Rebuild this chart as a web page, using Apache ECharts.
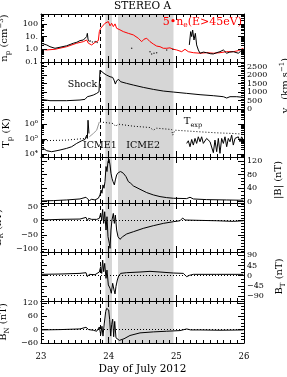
<!DOCTYPE html>
<html><head><meta charset="utf-8">
<script src="https://cdn.jsdelivr.net/npm/echarts@6/dist/echarts.min.js"></script>
<style>html,body{margin:0;padding:0;background:#fff}#c{width:287px;height:377px}</style>
</head><body><div id="c"></div>
<script>
// ---------------- DATA ----------------
const dayTicks = [23, 24, 25, 26];
const shockDay = 23.872;
const icme1Days = [23.951, 24.049];
const icme2Days = [24.138, 24.958];

// proton density (black) and 5*ne (red), cm^-3
const npBlackPre = [[23.0,3.0],[23.01,4.0],[23.04,2.6],[23.06,3.3],[23.084,2.2],[23.133,1.6],[23.207,1.2],[23.281,1.45],[23.379,1.9],[23.43,2.4],[23.478,3.0],[23.53,3.6],[23.576,4.8],[23.626,5.4],[23.65,4.8],[23.675,10],[23.685,18],[23.695,6.2],[23.714,4.0]];
const npBlackPost = [[25.192,2.2],[25.212,24.6],[25.227,10],[25.241,33],[25.261,5.4],[25.281,18],[25.3,2.2],[25.325,0.89],[25.35,0.49],[25.4,0.6],[25.448,0.54],[25.5,0.45],[25.547,0.43],[25.6,0.55],[25.645,0.65],[25.695,0.89],[25.744,0.49],[25.79,0.6],[25.842,0.65],[25.916,0.49],[25.95,0.7],[25.99,1.0]];
const npDots = [[23.73,4.5],[23.76,3.8],[23.8,4.2],[23.83,3.5],[24.34,1.2],[24.611,0.65],[24.635,0.43],[24.67,0.49],[24.709,0.54],[24.857,0.89],[24.95,1.0]];
const neRed = [[23.0,1.0],[23.084,0.89],[23.207,1.0],[23.379,1.6],[23.527,3.0],[23.626,4.0],[23.675,5.4],[23.7,3.0],[23.749,2.2],[23.798,3.5],[23.847,4.8],[23.862,24.6],[23.882,45],[23.911,61],[23.946,112],[23.97,83],[23.995,152],[24.02,70],[24.044,112],[24.069,61],[24.094,100],[24.118,45],[24.143,61],[24.167,34],[24.217,24.6],[24.291,18],[24.365,13.5],[24.438,7.4],[24.488,4.0],[24.522,6.2],[24.562,7.4],[24.611,4.0],[24.66,2.6],[24.709,1.8],[24.759,1.6],[24.808,1.2],[24.857,1.2],[24.906,1.3],[24.956,1.0],[25.005,0.89],[25.079,0.65],[25.128,1.0],[25.177,0.65],[25.251,0.54],[25.35,0.49],[25.448,0.54],[25.547,0.49],[25.645,0.54],[25.744,0.65],[25.842,0.65],[25.916,0.78],[25.99,1.2]];

// proton speed, km/s
const vpData = [[23.0,569],[23.133,490],[23.379,490],[23.576,529],[23.65,569],[23.685,725],[23.724,764],[23.773,823],[23.823,921],[23.857,1019],[23.872,2293],[23.882,2391],[23.901,2254],[23.931,2097],[23.97,1999],[24.02,1901],[24.059,1862],[24.079,1705],[24.099,1470],[24.118,1666],[24.148,1744],[24.177,1607],[24.266,1509],[24.365,1411],[24.512,1274],[24.66,1156],[24.808,1058],[24.956,999],[25.153,921],[25.35,843],[25.547,784],[25.695,725],[25.744,647],[25.793,725],[25.892,725],[25.99,686]];

// proton temperature, K
const tpBlackPre = [[23.0,30800],[23.034,23900],[23.084,16700],[23.158,14300],[23.207,15800],[23.281,18500],[23.379,23900],[23.453,30800],[23.527,51400],[23.601,77400],[23.65,95000],[23.675,185000],[23.685,111000],[23.695,1850000],[23.709,239000]];
const tpGray = [[23.714,143000],[23.773,239000],[23.823,398000],[23.862,1430000]];
const tpBlackPost = [[25.153,51400],[25.177,77400],[25.202,30800],[25.227,95000],[25.251,39800],[25.276,111000],[25.3,51400],[25.325,143000],[25.35,66400],[25.374,143000],[25.399,51400],[25.448,111000],[25.498,66400],[25.547,12300],[25.571,85800],[25.596,14300],[25.621,111000],[25.645,11100],[25.67,111000],[25.695,51400],[25.719,143000],[25.744,30800],[25.768,111000],[25.793,66400],[25.818,185000],[25.842,39800],[25.867,111000],[25.892,85800],[25.916,143000],[25.941,66400],[25.966,143000],[25.99,85800]];
const texpPre = [[23.0,77400],[23.379,85800],[23.65,111000],[23.685,143000]];
const texpPost = [[23.872,1430000],[24.069,1110000],[24.099,736000],[24.148,1000000],[24.365,736000],[24.611,600000],[24.66,398000],[24.709,541000],[24.931,441000],[24.946,185000],[24.98,398000],[25.35,308000],[25.596,264000],[25.842,239000],[25.99,215000]];

// magnetic field, nT
const bMag = [[23.0,2.1],[23.182,3.1],[23.379,5.0],[23.576,8.0],[23.665,13],[23.685,10],[23.714,3.1],[23.749,7.0],[23.798,5.0],[23.847,10],[23.872,19.9],[23.887,34.7],[23.901,24.8],[23.916,49.5],[23.931,39.6],[23.946,59.3],[23.961,103.8],[23.975,89],[23.99,118.6],[24.005,125.5],[24.02,108.7],[24.034,84],[24.049,69],[24.064,59.3],[24.084,49.5],[24.099,64.3],[24.118,79],[24.143,86],[24.177,89],[24.217,84],[24.256,74],[24.291,59.3],[24.325,54.4],[24.365,46.5],[24.463,36.6],[24.562,26.8],[24.66,19.9],[24.759,14.9],[24.857,11.9],[24.956,10],[25.153,9],[25.202,13],[25.251,8],[25.448,6],[25.744,5],[25.99,4]];
const bR = [[23.0,2.5],[23.281,4.9],[23.576,6.0],[23.665,11.9],[23.685,0.1],[23.704,8.4],[23.749,4.9],[23.823,4.9],[23.862,8.4],[23.882,26],[23.897,2.5],[23.911,40],[23.926,-9.4],[23.941,32],[23.961,-33],[23.975,14.3],[23.99,-56.6],[24.01,-80],[24.02,-98],[24.034,-33],[24.049,2.5],[24.069,26],[24.084,-9.4],[24.099,20],[24.118,-33],[24.138,-56.6],[24.167,-66],[24.207,-56.6],[24.266,-47],[24.365,-39],[24.512,-27],[24.66,-17.6],[24.808,-9.4],[24.956,-3.4],[25.054,0],[25.094,9.6],[25.128,2.5],[25.35,1.3],[25.596,0],[25.842,-2.2],[25.99,0]];
const bT = [[23.0,6],[23.281,7.5],[23.576,10.4],[23.665,13.4],[23.685,-4.3],[23.714,6],[23.798,4.5],[23.862,16.3],[23.882,40],[23.897,10.4],[23.911,69],[23.926,17.8],[23.941,54.5],[23.961,-11.6],[23.975,25],[23.995,-41],[24.02,-55.7],[24.039,-77.7],[24.059,-33.6],[24.079,-63],[24.094,-80.7],[24.108,-48],[24.128,-19],[24.148,-1.3],[24.177,10.4],[24.266,13.4],[24.463,16.3],[24.611,19.3],[24.759,16.3],[24.956,11.9],[25.103,10.4],[25.153,-4.3],[25.192,1.6],[25.251,6],[25.596,6],[25.99,6]];
const bN = [[23.0,-1.5],[23.281,0],[23.576,2.9],[23.665,10.3],[23.685,14.7],[23.704,0],[23.773,-2.9],[23.823,-7.3],[23.862,11.7],[23.882,-22],[23.901,14.7],[23.916,-29],[23.936,29.3],[23.956,80.7],[23.97,95],[23.985,99.7],[24.0,88],[24.015,44],[24.03,-29],[24.044,22],[24.059,47],[24.074,-32],[24.089,36.7],[24.108,-36.7],[24.128,-41],[24.158,-48.4],[24.187,-51.3],[24.227,-41],[24.315,-26.4],[24.463,-14.7],[24.66,-10.3],[24.857,-7.3],[25.054,-4.4],[25.153,2.9],[25.182,8.8],[25.212,-1.5],[25.35,-1.5],[25.645,-2.9],[25.99,-1.5]];

// tick values and labels
const npTicks = [0.1, 1, 10, 100], npTickLabels = ['0.1', '1.0', '10.', '100'];
const vpTicks = [0, 500, 1000, 1500, 2000, 2500], vpTickLabels = ['0', '500', '1000', '1500', '2000', '2500'];
const tpTicks = [1e4, 1e5, 1e6], tpTickLabels = ['10⁴', '10⁵', '10⁶'];
const bTicks = [0, 40, 80, 120], bTickLabels = ['0', '40', '80', '120'];
const brTicks = [-100, -50, 0, 50], brTickLabels = ['−100', '−50', '0', '50'];
const btTicks = [-90, -45, 0, 45, 90], btTickLabels = ['−90', '−45', '0', '45', '90'];
const bnTicks = [-60, 0, 60, 120], bnTickLabels = ['−60', '0', '60', '120'];

// ---------------- LAYOUT / STYLE ----------------
const SERIF = 'DejaVu Serif';
function range(a, b, s) { const r = []; for (let v = a; v <= b + 1e-9; v += s) r.push(+v.toFixed(6)); return r; }
function logMinor(lo, hi) { const r = []; for (let d = Math.floor(Math.log10(lo)); d <= Math.ceil(Math.log10(hi)); d++) { for (let k = 2; k <= 9; k++) { const v = k * Math.pow(10, d); if (v >= lo && v <= hi) r.push(v); } } return r; }

const panels = [
  { top: 14, h: 48, type: 'log', min: 0.1, max: 600, ticks: npTicks, labels: npTickLabels, minor: logMinor(0.1, 600), side: 'left', name: '{m|n}{sb|p}{m| (cm}{sp|−3}{m|)}' },
  { top: 62, h: 47, type: 'value', min: 0, max: 2770, ticks: vpTicks, labels: vpTickLabels, minor: range(0, 2700, 100), side: 'right', name: '{m|v}{sb|p}{m| (km s}{sp|−1}{m|)}' },
  { top: 109, h: 48, type: 'log', min: 6300, max: 1.05e7, ticks: tpTicks, labels: tpTickLabels, minor: logMinor(6300, 1.05e7), side: 'left', name: '{m|T}{sb|p}{m| (K)}' },
  { top: 157, h: 46, type: 'value', min: -4, max: 132, ticks: bTicks, labels: bTickLabels, minor: range(0, 130, 10), side: 'right', name: '{m||B| (nT)}' },
  { top: 203, h: 49, type: 'value', min: -111, max: 63, ticks: brTicks, labels: brTickLabels, minor: range(-110, 60, 10), side: 'left', name: '{m|B}{sb|R}{m| (nT)}', zero: true },
  { top: 252, h: 49, type: 'value', min: -112, max: 105, ticks: btTicks, labels: btTickLabels, minor: range(-105, 105, 15), side: 'right', name: '{m|B}{sb|T}{m| (nT)}', zero: true },
  { top: 301, h: 42, type: 'value', min: -60, max: 128, ticks: bnTicks, labels: bnTickLabels, minor: range(-60, 120, 15), side: 'left', name: '{m|B}{sb|N}{m| (nT)}', zero: true }
];

const nameRich = {
  m: { fontFamily: SERIF, fontSize: 10, lineHeight: 14, color: '#000' },
  sb: { fontFamily: SERIF, fontSize: 7, lineHeight: 8, verticalAlign: 'bottom', color: '#000' },
  sp: { fontFamily: SERIF, fontSize: 7, lineHeight: 8, verticalAlign: 'top', color: '#000' }
};
const black = { color: '#000', width: 1 };

const grids = [], xAxes = [], yAxes = [], series = [];
panels.forEach((p, i) => {
  const last = i === panels.length - 1;
  grids.push({ left: 41, right: 43, top: p.top, height: p.h, containLabel: false, outerBoundsMode: 'none' });
  const xBase = {
    gridIndex: i, type: 'value', min: 23, max: 26, interval: 1, z: 5,
    axisLine: { show: true, onZero: false, lineStyle: black },
    axisTick: { show: true, inside: true, length: 6, lineStyle: black },
    minorTick: { show: true, splitNumber: 10, length: 3, lineStyle: black },
    splitLine: { show: false }, minorSplitLine: { show: false }
  };
  xAxes.push(Object.assign({}, xBase, {
    position: 'bottom',
    axisLabel: { show: last, customValues: dayTicks, margin: 9, fontFamily: SERIF, fontSize: 8.5, color: '#000' },
    name: last ? 'Day of July 2012' : '', nameLocation: 'middle', nameGap: 21,
    nameTextStyle: { fontFamily: SERIF, fontSize: 10.5, color: '#000' }
  }));
  xAxes.push(Object.assign({}, xBase, { position: 'top', axisLabel: { show: false } }));

  const fmt = v => {
    let best = 0, bd = Infinity;
    p.ticks.forEach((t, k) => { const d = p.type === 'log' ? Math.abs(Math.log10(v) - Math.log10(t)) : Math.abs(v - t); if (d < bd) { bd = d; best = k; } });
    return p.labels[best];
  };
  const yBase = { gridIndex: i, type: p.type, min: p.min, max: p.max, z: 5, splitLine: { show: false }, minorSplitLine: { show: false } };
  ['left', 'right'].forEach(pos => {
    const lab = p.side === pos;
    yAxes.push(Object.assign({}, yBase, {
      position: pos,
      axisLine: { show: true, onZero: false, lineStyle: black },
      axisTick: { show: true, inside: true, length: 6, customValues: p.ticks, lineStyle: black },
      axisLabel: { show: lab, customValues: p.ticks, formatter: fmt, margin: 3, fontFamily: SERIF, fontSize: 8, color: '#000' },
      name: lab ? p.name : '', nameLocation: 'middle', nameRotate: 90, nameGap: pos === 'left' ? 22 : 26,
      nameTextStyle: { rich: nameRich }
    }));
  });
  ['left', 'right'].forEach(pos => {
    yAxes.push(Object.assign({}, yBase, {
      position: pos,
      axisLine: { show: false, onZero: false },
      axisTick: { show: true, inside: true, length: 3, customValues: p.minor, lineStyle: black },
      axisLabel: { show: false }
    }));
  });

  const ml = [{ xAxis: shockDay }];
  if (p.zero) ml.push({ yAxis: 0, lineStyle: { type: [1, 2], color: '#000', width: 1 } });
  series.push({
    type: 'line', xAxisIndex: 2 * i, yAxisIndex: 4 * i, data: [[23, p.min]], symbol: 'none', silent: true,
    lineStyle: { opacity: 0 }, z: 2,
    markLine: { silent: true, symbol: 'none', label: { show: false }, lineStyle: { type: [4, 3], color: '#000', width: 1 }, data: ml }
  });
});

function line(panel, data, opts) {
  series.push(Object.assign({
    type: 'line', xAxisIndex: 2 * panel, yAxisIndex: 4 * panel, data: data, symbol: 'none', silent: true,
    lineStyle: { color: '#000', width: 1 }, z: 3, animation: false
  }, opts || {}));
}
line(0, neRed, { lineStyle: { color: '#ff0000', width: 1 } });
line(0, npBlackPre);
line(0, npBlackPost);
series.push({ type: 'scatter', xAxisIndex: 0, yAxisIndex: 0, data: npDots, symbolSize: 1.5, itemStyle: { color: '#000' }, silent: true, z: 3 });
line(1, vpData);
line(2, texpPre, { lineStyle: { color: '#000', width: 1, type: [1, 2] } });
line(2, texpPost, { lineStyle: { color: '#000', width: 1, type: [1, 2] } });
line(2, tpGray, { lineStyle: { color: '#999', width: 1 } });
line(2, tpBlackPre);
line(2, tpBlackPost);
line(3, bMag);
line(4, bR);
line(5, bT);
line(6, bN);

const chart = echarts.init(document.getElementById('c'), null, { renderer: 'canvas' });
chart.setOption({ animation: false, backgroundColor: '#fff', grid: grids, xAxis: xAxes, yAxis: yAxes, series: series });

// shading and annotations anchored in data coordinates (library scales)
function px(panel, x, y) { return chart.convertToPixel({ xAxisIndex: 2 * panel, yAxisIndex: 4 * panel }, [x, y]); }
const g = [];
panels.forEach((p, i) => {
  [icme1Days, icme2Days].forEach(iv => {
    const a = px(i, iv[0], p.max), b = px(i, iv[1], p.min);
    g.push({ type: 'rect', z: -10, silent: true, shape: { x: a[0], y: a[1], width: b[0] - a[0], height: b[1] - a[1] }, style: { fill: '#d6d6d6' } });
  });
});
const txt = { fontFamily: SERIF, fontSize: 9.5, fill: '#000' };
g.push({ type: 'text', x: 142.5, y: 6, style: { text: 'STEREO A', fontFamily: SERIF, fontSize: 10.5, fill: '#000', align: 'center', verticalAlign: 'middle' } });
const a1 = px(0, 25.97, 150);
g.push({ type: 'text', x: a1[0], y: a1[1], z: 10, style: { text: '{r|5•n}{rs|e}{r|(E>45eV)}', align: 'right', verticalAlign: 'middle', rich: { r: { fontFamily: SERIF, fontSize: 11, lineHeight: 14, fill: '#ff0000' }, rs: { fontFamily: SERIF, fontSize: 7.5, lineHeight: 9, verticalAlign: 'bottom', fill: '#ff0000' } } } });
const a2 = px(1, 23.83, 1470);
g.push({ type: 'text', x: a2[0], y: a2[1], z: 10, style: Object.assign({ text: 'Shock', align: 'right', verticalAlign: 'middle' }, txt) });
const a3 = px(2, 23.87, 39800);
g.push({ type: 'text', x: a3[0], y: a3[1], z: 10, style: Object.assign({ text: 'ICME1', align: 'center', verticalAlign: 'middle' }, txt) });
const a4 = px(2, 24.51, 39800);
g.push({ type: 'text', x: a4[0], y: a4[1], z: 10, style: Object.assign({ text: 'ICME2', align: 'center', verticalAlign: 'middle' }, txt) });
const a5 = px(2, 25.11, 1500000);
g.push({ type: 'text', x: a5[0], y: a5[1], z: 10, style: { text: '{m|T}{s|exp}', align: 'left', verticalAlign: 'middle', rich: { m: { fontFamily: SERIF, fontSize: 10, lineHeight: 14, fill: '#000' }, s: { fontFamily: SERIF, fontSize: 6.5, lineHeight: 8, verticalAlign: 'bottom', fill: '#000' } } } });
chart.setOption({ graphic: { elements: g } });
</script></body></html>
